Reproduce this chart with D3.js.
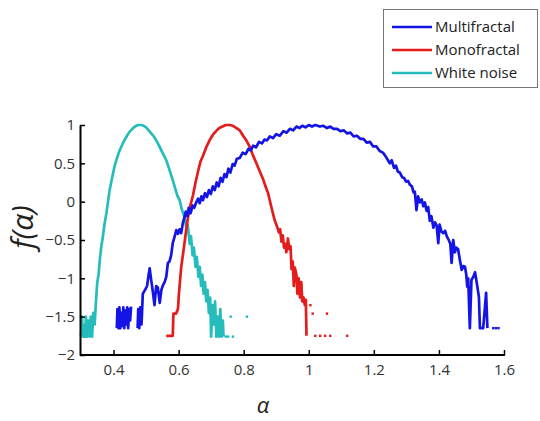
<!DOCTYPE html>
<html>
<head>
<meta charset="utf-8">
<script src="https://cdn.jsdelivr.net/npm/d3@7"></script>
<style>
  body { margin: 0; background: #fff; }
  text { font-family: "Open Sans", "Liberation Sans", sans-serif; }
</style>
</head>
<body>
<svg width="540" height="421"></svg>
<script>
// f(alpha) spectra (null = gap in the line)
const multiAlpha = [0.41,0.412,0.415,0.418,0.421,0.424,0.427,0.430,0.433,0.436,0.439,0.442,0.445,0.448,0.451,0.454,null,
  0.474,0.476,0.479,0.482,0.486,0.49,0.497,0.503,0.508,0.511,0.515,0.52,0.526,0.531,0.536,0.542,0.547,0.552,0.557,0.562,0.567,0.572,0.577,0.582,0.588,0.593,0.598,0.603,0.608,0.613,0.618,0.622,0.627,0.631,0.637,0.643,0.648,0.654,0.66,0.665,0.67,0.675,0.681,0.687,0.693,0.699,0.705,0.711,0.717,0.723,0.729,0.735,0.741,0.747,0.753,0.759,0.766,0.772,0.779,0.788,0.797,0.806,0.815,0.822,0.829,0.838,0.847,0.856,0.864,0.872,0.88,0.89,0.9,0.911,0.922,0.932,0.942,0.952,0.962,0.972,0.98,0.99,1.0,1.01,1.02,1.034,1.045,1.056,1.066,1.076,1.087,1.097,1.108,1.118,1.128,1.138,1.148,1.158,1.168,1.178,1.188,1.198,1.208,1.218,1.228,1.238,1.249,1.255,1.262,1.268,1.274,1.28,1.287,1.293,1.299,1.305,1.311,1.317,1.322,1.326,1.331,1.336,1.341,1.347,1.352,1.357,1.362,1.367,1.372,1.377,1.383,1.388,1.393,1.398,1.402,1.408,1.414,1.419,1.424,1.43,1.435,1.439,1.444,1.449,1.454,1.459,1.464,1.47,1.475,1.48,1.484,1.487,1.49,1.495,1.5,1.506,1.511,1.516,1.521,1.523,1.526,1.536,1.54,1.545,1.549];
const multiF = [-1.65,-1.4,-1.65,-1.38,-1.65,-1.45,-1.62,-1.38,-1.65,-1.42,-1.6,-1.38,-1.65,-1.4,-1.55,-1.37,null,
  -1.65,-1.4,-1.65,-1.38,-1.6,-1.2,-1.15,-1.1,-0.95,-0.87,-1.0,-1.15,-1.35,-1.1,-1.12,-1.32,-1.15,-1.09,-1.05,-0.98,-0.8,-0.78,-0.7,-0.54,-0.45,-0.37,-0.42,-0.36,-0.41,-0.28,-0.2,-0.13,-0.19,-0.08,-0.15,-0.05,-0.08,-0.01,0.04,-0.02,0.07,0.02,0.11,0.06,0.15,0.1,0.2,0.15,0.25,0.2,0.31,0.26,0.36,0.32,0.43,0.38,0.49,0.47,0.56,0.57,0.64,0.62,0.69,0.67,0.73,0.71,0.78,0.76,0.81,0.8,0.85,0.83,0.88,0.86,0.92,0.9,0.95,0.93,0.98,0.96,0.99,0.97,1.0,0.98,1.0,0.98,0.99,0.96,0.98,0.95,0.95,0.92,0.93,0.89,0.9,0.85,0.86,0.82,0.82,0.77,0.78,0.72,0.72,0.66,0.64,0.58,0.5,0.54,0.44,0.47,0.39,0.38,0.32,0.31,0.26,0.27,0.22,0.2,0.12,0.13,-0.11,0.07,-0.01,0.03,-0.06,-0.01,-0.12,-0.07,-0.25,-0.19,-0.34,-0.27,-0.31,-0.54,-0.3,-0.39,-0.41,-0.38,-0.45,-0.5,-0.55,-0.8,-0.5,-0.66,-0.6,-0.62,-0.75,-0.89,-0.84,-0.85,-0.95,-1.11,-1.0,-1.65,-1.02,-0.98,-0.92,-1.05,-1.19,-1.25,-1.65,-1.65,-1.45,-1.19,-1.65];
const multiDotAlpha = [1.567, 1.575, 1.583];
const multiDotF = [-1.65, -1.65, -1.65];

const monoAlpha = [0.562,0.572,0.582,0.584,0.592,0.598,0.601,0.605,0.608,0.613,0.618,0.623,0.629,0.636,0.644,0.652,0.66,0.667,0.675,0.685,0.695,0.705,0.715,0.725,0.735,0.745,0.757,0.767,0.778,0.788,0.798,0.808,0.818,0.828,0.839,0.849,0.859,0.867,0.875,0.885,0.895,0.903,0.908,0.912,0.916,0.92,0.924,0.928,0.931,0.936,0.94,0.944,0.947,0.951,0.954,0.957,0.962,0.965,0.969,0.973,0.977,0.98,0.984,0.988,0.991,0.993];
const monoF = [-1.75,-1.75,-1.75,-1.46,-1.46,-1.4,-1.2,-1.0,-0.85,-0.7,-0.54,-0.38,-0.2,-0.05,0.08,0.25,0.4,0.52,0.6,0.71,0.8,0.87,0.92,0.96,0.98,1.0,1.0,0.99,0.96,0.93,0.86,0.8,0.72,0.61,0.5,0.4,0.3,0.2,0.11,-0.07,-0.24,-0.33,-0.4,-0.36,-0.52,-0.44,-0.6,-0.55,-0.66,-0.48,-0.62,-0.58,-0.88,-0.78,-1.1,-0.86,-0.95,-1.2,-1.0,-1.25,-1.05,-1.3,-1.25,-1.35,-1.28,-1.75];
const monoDotAlpha = [1.005, 1.012, 1.056, 1.02, 1.035, 1.05, 1.066, 1.118];
const monoDotF = [-1.35, -1.46, -1.46, -1.75, -1.75, -1.75, -1.75, -1.75];

const whiteAlpha = [0.300,0.303,0.306,0.309,0.312,0.315,0.318,0.322,0.326,0.330,0.334,0.338,0.342,0.346,0.350,0.354,0.358,0.362,0.367,0.372,0.378,0.383,0.388,0.395,0.403,0.41,0.417,0.424,0.432,0.44,0.449,0.458,0.466,0.475,0.485,0.493,0.5,0.508,0.516,0.524,0.531,0.54,0.548,0.555,0.562,0.57,0.576,0.582,0.589,0.596,0.603,0.61,0.618,0.624,0.628,0.634,0.638,0.643,0.647,0.652,0.656,0.661,0.665,0.669,0.673,0.677,0.681,0.685,0.689,0.693,0.697,0.700,0.704,0.708,0.712,0.716,0.720,0.724,0.728,0.732,0.736,0.738];
const whiteF = [-1.76,-1.5,-1.76,-1.62,-1.76,-1.5,-1.76,-1.55,-1.76,-1.5,-1.76,-1.45,-1.6,-1.3,-1.05,-0.95,-0.75,-0.6,-0.46,-0.3,-0.15,0.0,0.15,0.3,0.46,0.56,0.65,0.72,0.79,0.85,0.91,0.95,0.98,1.0,1.0,0.99,0.97,0.93,0.89,0.85,0.8,0.73,0.66,0.6,0.54,0.44,0.36,0.28,0.18,0.08,0.02,-0.1,-0.2,-0.35,-0.3,-0.55,-0.45,-0.7,-0.6,-0.85,-0.72,-0.98,-0.85,-1.1,-0.95,-1.2,-1.05,-1.3,-1.15,-1.45,-1.25,-1.76,-1.35,-1.6,-1.3,-1.76,-1.5,-1.76,-1.4,-1.76,-1.55,-1.76];
const whiteDotAlpha = [0.745, 0.752, 0.76, 0.767, 0.81];
const whiteDotF = [-1.76, -1.76, -1.5, -1.76, -1.5];

const seriesNames = ["Multifractal", "Monofractal", "White noise"];
const seriesColors = ["#1414e6", "#e41c1c", "#26bcbc"];
const xTicks = [0.4, 0.6, 0.8, 1, 1.2, 1.4, 1.6];
const yTicks = [-2, -1.5, -1, -0.5, 0, 0.5, 1];

const svg = d3.select("svg");
const x = d3.scaleLinear().domain([0.3, 1.6]).range([81, 504]);
const y = d3.scaleLinear().domain([-2, 1]).range([355, 125]);

const series = [
  {a: multiAlpha, f: multiF, da: multiDotAlpha, df: multiDotF},
  {a: monoAlpha, f: monoF, da: monoDotAlpha, df: monoDotF},
  {a: whiteAlpha, f: whiteF, da: whiteDotAlpha, df: whiteDotF}
];

const line = d3.line()
  .defined(d => d[0] !== null)
  .x(d => x(d[0]))
  .y(d => y(d[1]));

// draw white noise first so blue sits on top like in the picture
[2, 1, 0].forEach(i => {
  const s = series[i];
  const pts = s.a.map((v, j) => [v, s.f[j]]);
  svg.append("path")
    .attr("d", line(pts))
    .attr("fill", "none")
    .attr("stroke", seriesColors[i])
    .attr("stroke-width", 2.7)
    .attr("stroke-linejoin", "round");
  svg.selectAll(null)
    .data(s.da.map((v, j) => [v, s.df[j]]))
    .enter().append("rect")
    .attr("x", d => x(d[0]) - 1.2)
    .attr("y", d => y(d[1]) - 1.2)
    .attr("width", 2.4)
    .attr("height", 2.4)
    .attr("fill", seriesColors[i]);
});

// axes, ticks pointing inward
const xAxis = svg.append("g")
  .attr("transform", "translate(0,355)")
  .call(d3.axisBottom(x).tickValues(xTicks).tickSize(-5).tickSizeOuter(0).tickPadding(9)
    .tickFormat(d3.format("~g")));
const yAxis = svg.append("g")
  .attr("transform", "translate(80,0)")
  .call(d3.axisLeft(y).tickValues(yTicks).tickSize(-5).tickSizeOuter(0).tickPadding(5)
    .tickFormat(d3.format("~g")));

[xAxis, yAxis].forEach(g => {
  g.select(".domain").attr("stroke", "#000").attr("stroke-width", 2);
  g.selectAll(".tick line").attr("stroke", "#000").attr("stroke-width", 1.5);
  g.selectAll(".tick text").attr("fill", "#333").style("font-size", "15px");
});
xAxis.select(".domain").attr("d", "M80,0H505");

svg.append("text")
  .attr("transform", "translate(33,227) rotate(-90)")
  .attr("text-anchor", "middle")
  .style("font-size", "30px")
  .style("font-style", "italic")
  .attr("fill", "#222")
  .text("f(α)");

svg.append("text")
  .attr("x", 263)
  .attr("y", 413)
  .attr("text-anchor", "middle")
  .style("font-size", "22px")
  .style("font-style", "italic")
  .attr("fill", "#222")
  .text("α");

// legend
const legend = svg.append("g");
legend.append("rect")
  .attr("x", 383.5).attr("y", 9.5)
  .attr("width", 154).attr("height", 78)
  .attr("fill", "#fff").attr("stroke", "#777").attr("stroke-width", 1);
seriesNames.forEach((name, i) => {
  const ly = 27 + i * 23;
  legend.append("line")
    .attr("x1", 392).attr("x2", 432)
    .attr("y1", ly).attr("y2", ly)
    .attr("stroke", seriesColors[i]).attr("stroke-width", 2.5);
  legend.append("text")
    .attr("x", 435).attr("y", ly + 5)
    .style("font-size", "15px")
    .attr("fill", "#222")
    .text(name);
});
</script>
</body>
</html>
